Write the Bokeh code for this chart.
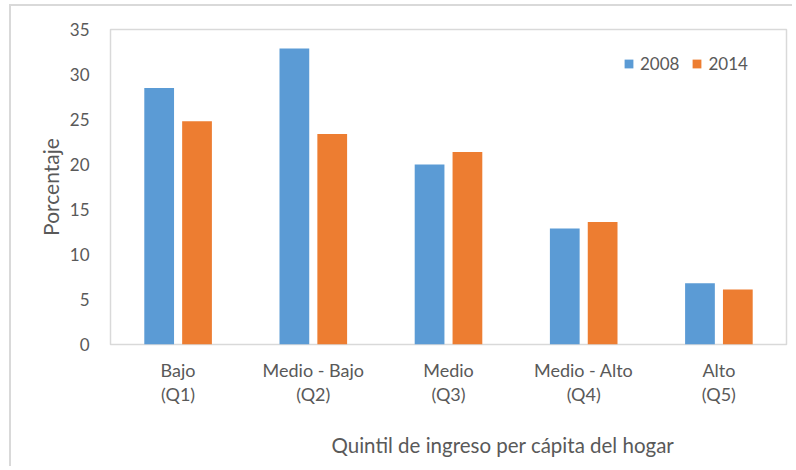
from bokeh.plotting import figure
from bokeh.models import (FactorRange, Range1d, FixedTicker, ColumnDataSource,
                          Legend, Title, InlineStyleSheet)
from bokeh.transform import dodge
from bokeh.embed import file_html
from bokeh.resources import INLINE

# ---- data ----
names = ["Bajo", "Medio - Bajo", "Medio", "Medio - Alto", "Alto"]
quintiles = ["(Q1)", "(Q2)", "(Q3)", "(Q4)", "(Q5)"]
v2008 = [28.5, 32.9, 20.0, 12.9, 6.8]
v2014 = [24.8, 23.4, 21.4, 13.6, 6.1]
y_ticks = [0, 5, 10, 15, 20, 25, 30, 35]
y_title = "Porcentaje"
x_title = "Quintil de ingreso per cápita del hogar"

factors = [f"{n}\n{q}" for n, q in zip(names, quintiles)]
src = ColumnDataSource(dict(cat=factors, v2008=v2008, v2014=v2014))

FONT = "Lato"
TXT = "#595959"
GRID = "#d9d9d9"

p = figure(width=792, height=466, x_range=FactorRange(*factors),
           y_range=Range1d(0, 35), output_backend="svg", toolbar_location=None,
           min_border_left=110, min_border_right=6, min_border_top=29,
           min_border_bottom=122)
p.outline_line_color = GRID
p.outline_line_width = 1.5
p.grid.visible = False
p.x_range.range_padding = 0
p.x_range.group_padding = 0
p.border_fill_alpha = 0

r1 = p.vbar(x=dodge("cat", -0.14, range=p.x_range), top="v2008", width=0.22,
            source=src, color="#5B9BD5", line_color=None)
r2 = p.vbar(x=dodge("cat", 0.14, range=p.x_range), top="v2014", width=0.22,
            source=src, color="#ED7D31", line_color=None)

# y axis
ya = p.yaxis[0]
ya.ticker = FixedTicker(ticks=y_ticks)
ya.axis_line_color = None
ya.major_tick_line_color = None
ya.minor_tick_line_color = None
ya.major_label_text_font = FONT
ya.major_label_text_font_size = "17px"
ya.major_label_text_color = TXT
ya.major_label_standoff = 15
ya.axis_label = y_title
ya.axis_label_text_font = FONT
ya.axis_label_text_font_size = "21px"
ya.axis_label_text_font_style = "normal"
ya.axis_label_text_color = TXT
ya.axis_label_standoff = 4

# x axis (two-line labels)
xa = p.xaxis[0]
xa.axis_line_color = None
xa.major_tick_line_color = None
xa.major_label_text_font = FONT
xa.major_label_text_font_size = "18px"
xa.major_label_text_color = TXT
xa.major_label_standoff = 8
xa.major_label_text_line_height = 1.1

spacer = Title(text="\u00a0", text_font_size="6px", text_color=TXT)
p.add_layout(spacer, "below")
t = Title(text=x_title, align="left", offset=221, text_font=FONT,
          text_font_size="20.5px", text_font_style="normal", text_color=TXT)
p.add_layout(t, "below")

legend = Legend(items=[("2008", [r1]), ("2014", [r2])], orientation="horizontal",
                location=(513, 270), glyph_width=11, glyph_height=11,
                label_standoff=6, spacing=12, padding=0, border_line_color=None,
                background_fill_alpha=0, label_text_font=FONT,
                label_text_font_size="17px", label_text_color=TXT)
p.add_layout(legend)

p.stylesheets = [InlineStyleSheet(css=(
    ":host { background-color: white;"
    " background-image: linear-gradient(#d9d9d9, #d9d9d9), linear-gradient(#d9d9d9, #d9d9d9);"
    " background-size: 2px 100%, 100% 2px;"
    " background-position: 9px 4px, 9px 4px;"
    " background-repeat: no-repeat; }"))]

open("out.html", "w").write(file_html(p, INLINE))
